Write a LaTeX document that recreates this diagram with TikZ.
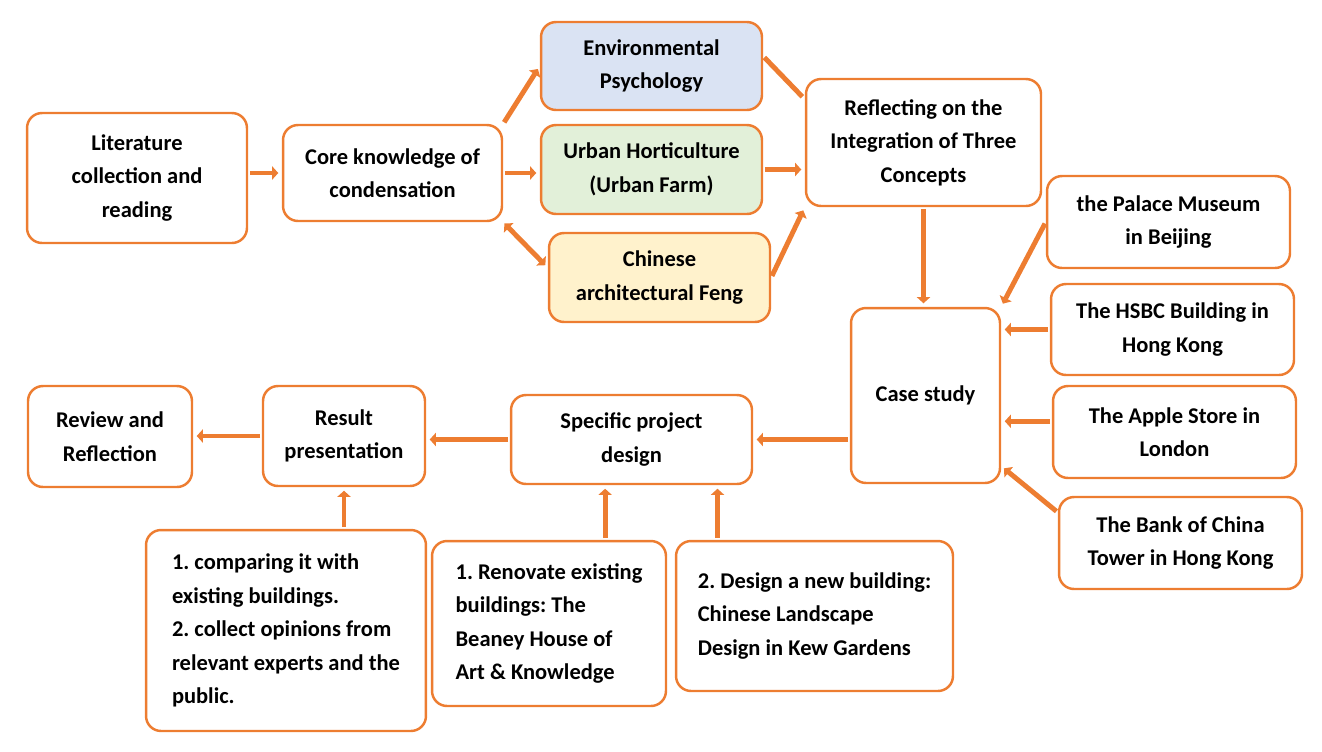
\documentclass[tikz,border=0pt]{standalone}
\usepackage{fontspec}
\setmainfont{Carlito}
\usepackage{tikz}
\usetikzlibrary{arrows.meta}
\usetikzlibrary{calc}
\frenchspacing

\definecolor{lineorange}{HTML}{ED7D31}
\definecolor{psyblue}{HTML}{DAE3F3}
\definecolor{farmgreen}{HTML}{E2F0D9}
\definecolor{fengyellow}{HTML}{FFF2CC}

\tikzset{
  box/.style={draw=lineorange, line width=1.4pt, rounded corners=0.3cm, fill=white,
    align=center, inner sep=0pt, font=\fontsize{12.8}{19.1}\selectfont\bfseries},
  notebox/.style={box, align=left},
  link/.style={draw=lineorange, line width=2.8pt, >={Triangle[length=3.5pt,width=7.5pt]}, ->,
    shorten <=1pt, shorten >=2pt},
}

\begin{document}
\begin{tikzpicture}[x=0.02cm, y=-0.02cm]

  \useasboundingbox (0,0) rectangle (1322,751);

  % Top row: reading and the three concepts
  \node[box, minimum width=4.4cm, minimum height=2.6cm] (lit) at (137,178) {Literature\\collection and\\reading};
  \node[box, minimum width=4.38cm, minimum height=1.92cm] (core) at (392.5,173) {Core knowledge of\\condensation};

  \node[box, fill=psyblue, minimum width=4.42cm, minimum height=1.76cm] (env) at (651.5,66) {Environmental\\Psychology};
  \node[box, fill=farmgreen, minimum width=4.42cm, minimum height=1.78cm] (urb) at (651.5,169.5) {Urban Horticulture\\(Urban Farm)};
  \node[box, fill=fengyellow, minimum width=4.42cm, minimum height=1.78cm] (chn) at (659.5,277.5) {Chinese\\architectural Feng};

  \node[box, minimum width=4.7cm, minimum height=2.54cm] (refl) at (923.5,142.5) {Reflecting on the\\Integration of Three\\Concepts};

  % Cases on the right
  \node[box, minimum width=2.98cm, minimum height=3.5cm] (case) at (925.5,395.5) {Case study};

  \node[box, minimum width=4.86cm, minimum height=1.84cm] (pal) at (1168.5,222) {the Palace Museum\\in Beijing};
  \node[box, minimum width=4.86cm, minimum height=1.82cm] (hsbc) at (1172.5,329.5) {The HSBC Building in\\Hong Kong};
  \node[box, minimum width=4.86cm, minimum height=1.84cm] (apple) at (1174.5,432) {The Apple Store in\\London};
  \node[box, minimum width=4.86cm, minimum height=1.84cm] (boc) at (1180.5,543) {The Bank of China\\Tower in Hong Kong};

  % Bottom row
  \node[box, minimum width=4.82cm, minimum height=1.78cm] (spec) at (631.5,439.5) {Specific project\\design};
  \node[box, minimum width=3.24cm, minimum height=2.0cm] (res) at (344,436) {Result\\presentation};
  \node[box, minimum width=3.28cm, minimum height=2.02cm] (rev) at (110,436.5) {Review and\\Reflection};

  \node[notebox, minimum width=5.6cm, minimum height=4.02cm] (cmp) at (286,630.5) {1. comparing it with\\existing buildings.\\2. collect opinions from\\relevant experts and the\\public.};
  \node[notebox, minimum width=4.68cm, minimum height=3.3cm] (ren) at (549,623.5) {1. Renovate existing\\buildings: The\\Beaney House of\\Art \& Knowledge};
  \node[notebox, minimum width=5.54cm, minimum height=3.0cm] (new) at (814.5,616) {2. Design a new building:\\Chinese Landscape\\Design in Kew Gardens};

  % Connectors
  \draw[link] (lit.east |- core.west) -- (core.west);
  \draw[link] (core.north east) -- (env.west);
  \draw[link] (core.east) -- (core.east -| urb.west);
  \draw[link, <->] (core.south east) -- (chn.175);

  \draw[link, -] (env.5) -- (refl.160);
  \draw[link] (urb.east) -- (urb.east -| refl.west);
  \draw[link] (chn.east) -- (refl.south west);
  \draw[link] (refl.south) -- (refl.south |- case.north);

  \draw[link] (pal.west) -- (case.north east);
  \draw[link] (hsbc.west) -- (hsbc.west -| case.east);
  \draw[link] (apple.175) -- (apple.175 -| case.east);
  \draw[link] (boc.166) -- (case.-43);

  \draw[link] (case.west |- spec.east) -- (spec.east);
  \draw[link] (spec.west) -- (spec.west -| res.east);
  \draw[link] (res.west) -- (res.west -| rev.east);

  \draw[link] (res.south |- cmp.north) -- (res.south);
  \draw[link] (spec.240 |- ren.north) -- (spec.240);
  \draw[link] (spec.332 |- new.north) -- (spec.332);

\end{tikzpicture}
\end{document}
